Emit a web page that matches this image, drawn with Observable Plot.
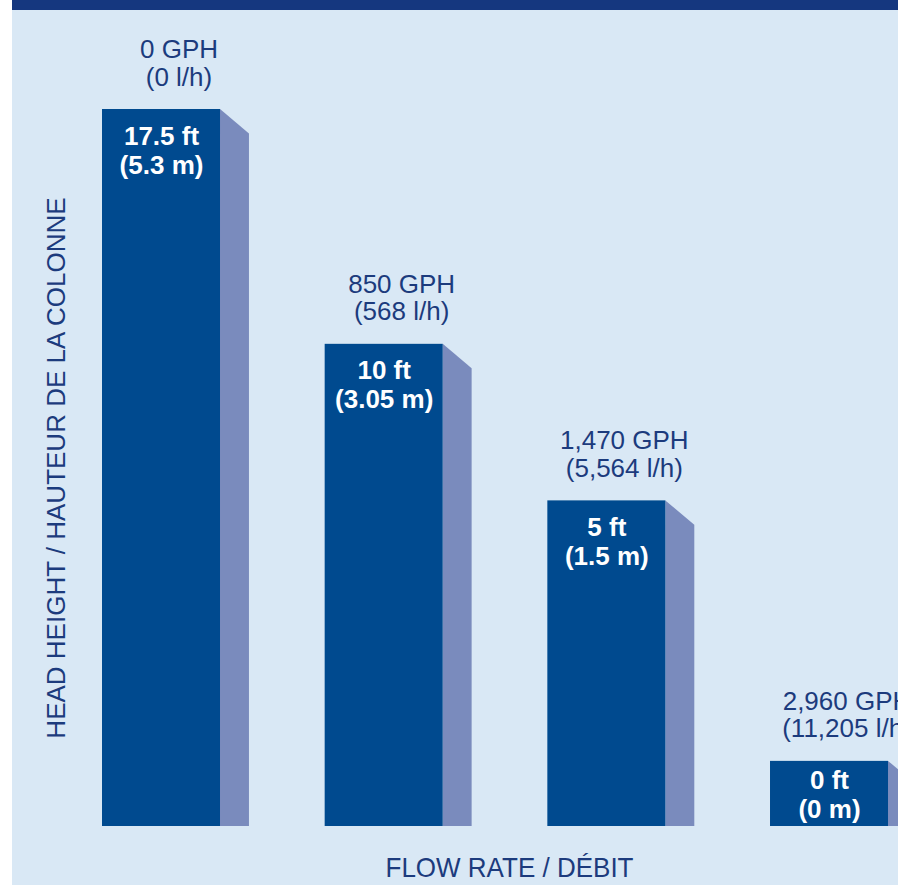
<!DOCTYPE html>
<html>
<head>
<meta charset="utf-8">
<script src="https://cdn.jsdelivr.net/npm/d3@7"></script>
<script src="https://cdn.jsdelivr.net/npm/@observablehq/plot@0.6"></script>
<style>
  html, body { margin: 0; padding: 0; background: #ffffff; }
  #wrap { position: relative; width: 898px; height: 885px; overflow: hidden; }
  #leftstrip { position: absolute; left: 0; top: 0; width: 12px; height: 885px; background: #ffffff; }
  #topband { position: absolute; left: 12px; top: 0; width: 886px; height: 10px; background: #15377f; }
</style>
</head>
<body>
<div id="wrap"><div id="chart"></div><div id="leftstrip"></div><div id="topband"></div></div>
<script>
// ---- data ----
const flowGPH = [0, 850, 1470, 2960];
const flowLH = [0, 568, 5564, 11205];
const headFt = [17.5, 10, 5, 0];
const headM = [5.3, 3.05, 1.5, 0];
const xTitle = "FLOW RATE / DÉBIT";
const yTitle = "HEAD HEIGHT / HAUTEUR DE LA COLONNE";

// ---- layout constants (drawing geometry, in scale units) ----
const FLOOR = -5.4;      // ft value at the drawing baseline
const ZERO_BOX = 2.08;   // height of the label box drawn for a 0 ft head
const FRONT = 0.53;      // front face width (x units)
const SIDE = 0.13;       // side face depth (x units)
const DROP = 0.78;       // side face top slope (ft units)
const X0 = -0.4581, X1 = 3.5748;

const fmt = d3.format(",");
const rows = headFt.map((v, i) => {
  const top = v > 0 ? v : FLOOR + ZERO_BOX;
  return {
    i, v, top,
    outer: `${fmt(flowGPH[i])} GPH\n(${fmt(flowLH[i])} l/h)`,
    inner: `${v} ft\n(${headM[i]} m)`,
    innerY: Math.max(top - 1.29, (top + FLOOR) / 2)
  };
});
const sideVerts = rows.flatMap(d => [
  {i: d.i, x: d.i + FRONT, y2: d.top},
  {i: d.i, x: d.i + FRONT + SIDE, y2: d.top - DROP}
]);

const NAVY = "#1c3b7d";
const font = "'Liberation Sans', Arial, Helvetica, sans-serif";

const chart = Plot.plot({
  width: 898,
  height: 885,
  marginTop: 109,
  marginBottom: 59,
  marginLeft: 0,
  marginRight: 0,
  x: {domain: [X0, X1], axis: null},
  y: {domain: [FLOOR, d3.max(headFt)], axis: null},
  style: {background: "#d9e8f5", fontFamily: font, overflow: "hidden"},
  marks: [
    Plot.area(sideVerts, {x1: "x", y1: () => FLOOR, y2: "y2", z: "i", fill: "#7a8bbd", curve: "linear"}),
    Plot.rect(rows, {x1: d => d.i, x2: d => d.i + FRONT, y1: () => FLOOR, y2: d => d.top, fill: "#004a8f"}),
    Plot.text(rows, {
      x: d => d.i + (FRONT + SIDE) / 2, y: d => d.top, text: "outer",
      lineAnchor: "bottom", dy: -24, dx: 3, fontSize: 26, lineHeight: 1.06,
      fill: NAVY, fontFamily: font
    }),
    Plot.text(rows, {
      x: d => d.i + FRONT / 2, y: "innerY", text: "inner",
      lineAnchor: "middle", fontSize: 26, fontWeight: "bold", lineHeight: 29 / 26,
      fill: "#ffffff", fontFamily: font
    }),
    Plot.text([xTitle], {
      frameAnchor: "bottom", text: d => d, lineAnchor: "bottom", dy: 50, dx: 60,
      fontSize: 28, fill: NAVY, fontFamily: font, className: "xtitle"
    }),
    Plot.text([yTitle], {
      frameAnchor: "left", text: d => d, rotate: -90, textAnchor: "middle", lineAnchor: "middle", dx: 56,
      fontSize: 26, fill: NAVY, fontFamily: font
    })
  ]
});
document.getElementById("chart").appendChild(chart);
// condense the x title to match the narrow face of the original
d3.select(chart).selectAll(".xtitle text").attr("textLength", 248).attr("lengthAdjust", "spacingAndGlyphs");
</script>
</body>
</html>
